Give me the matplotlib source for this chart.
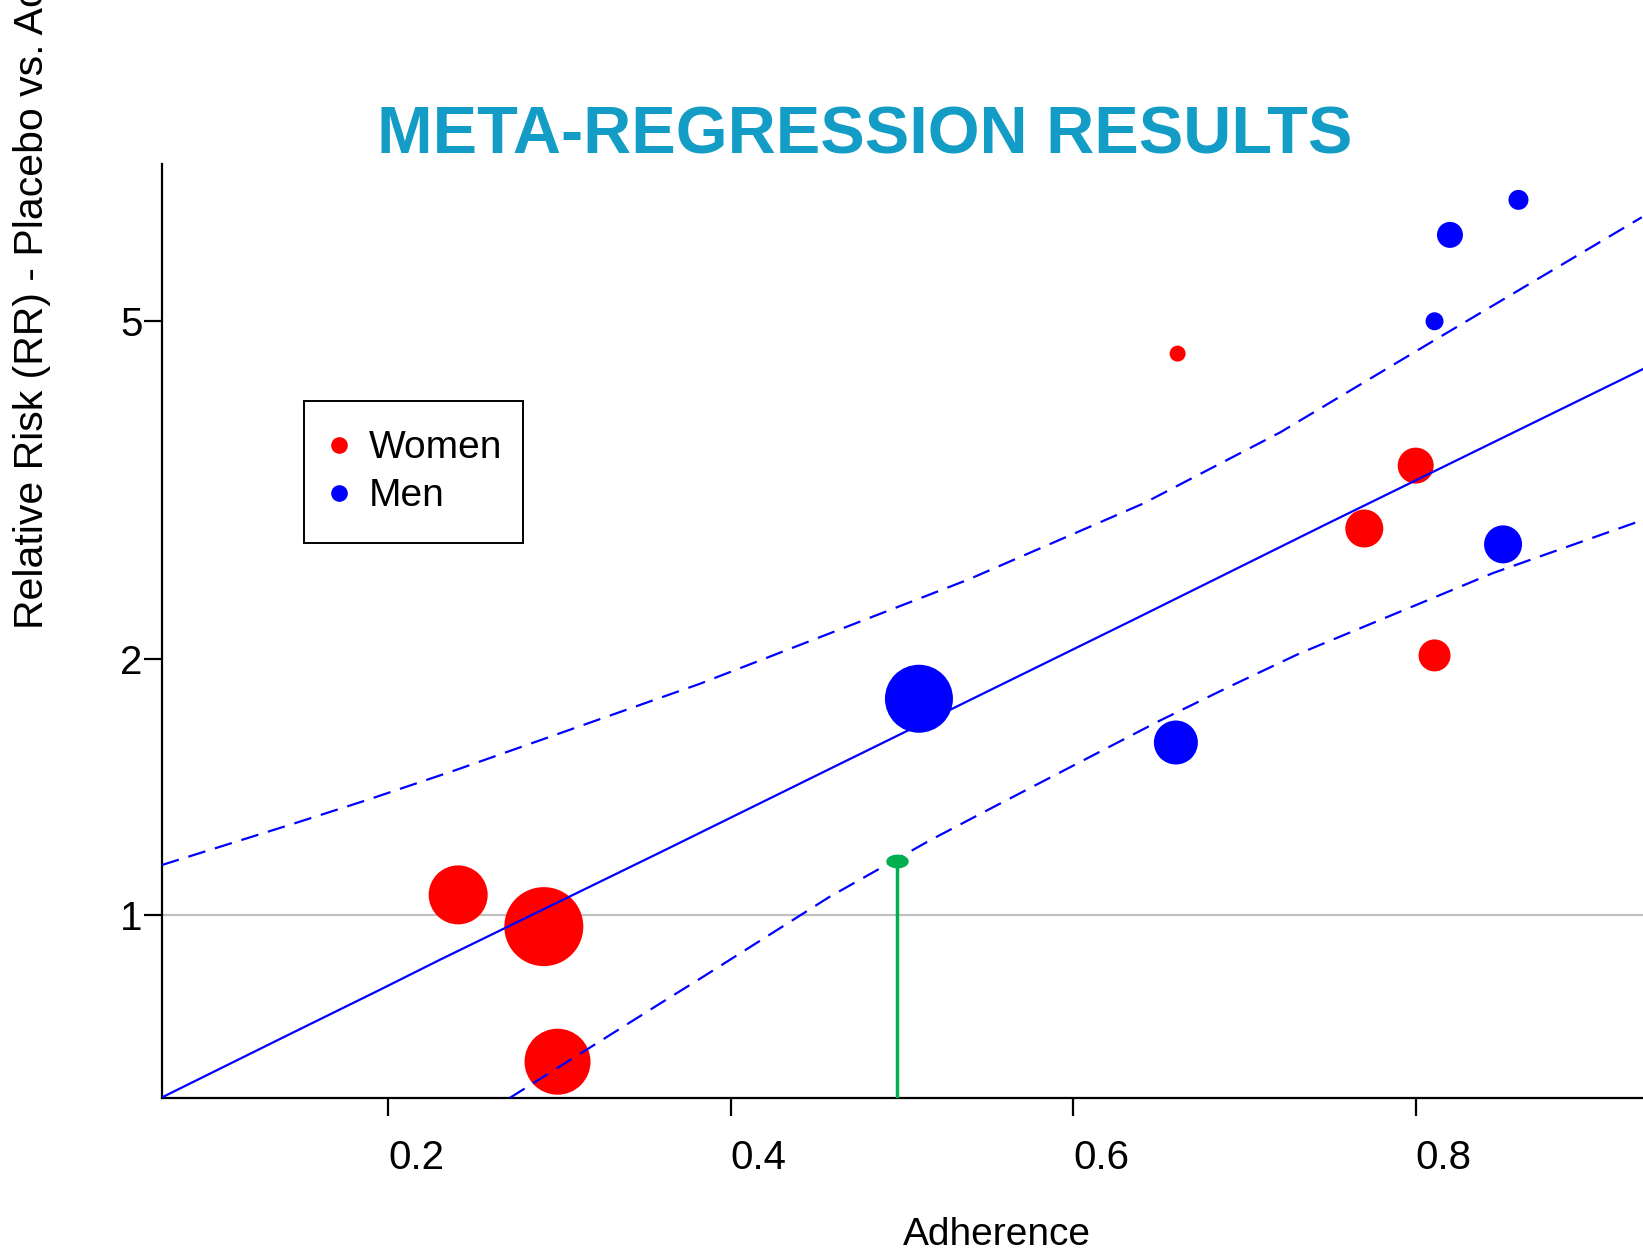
import numpy as np
import matplotlib.pyplot as plt
from matplotlib.lines import Line2D
from matplotlib.ticker import NullLocator

plt.rcParams['font.family'] = ['Liberation Sans', 'DejaVu Sans']

# study points: adherence, relative risk, marker diameter (px)
women_adh = [0.241, 0.291, 0.299, 0.661, 0.800, 0.770, 0.811]
women_rr = [1.055, 0.968, 0.671, 4.58, 3.38, 2.85, 2.02]
women_size = [59, 79, 66, 16, 36, 38, 32]

men_adh = [0.510, 0.660, 0.851, 0.820, 0.860, 0.811]
men_rr = [1.796, 1.595, 2.73, 6.32, 6.95, 5.0]
men_size = [68, 44, 38, 26, 20, 18]

# meta-regression line and confidence band
fit_adh = [0.068, 0.139, 0.195, 0.230, 0.359, 0.458, 0.635, 0.748, 0.933]
fit_rr = [0.609, 0.717, 0.815, 0.884, 1.184, 1.485, 2.224, 2.885, 4.395]

upper_adh = [0.068, 0.145, 0.188, 0.240, 0.382, 0.5385, 0.641, 0.721, 0.811, 0.932]
upper_rr = [1.144, 1.28, 1.365, 1.481, 1.87, 2.48, 3.05, 3.70, 4.75, 6.63]

lower_adh = [0.271, 0.359, 0.382, 0.458, 0.517, 0.552, 0.650, 0.6915, 0.732, 0.845, 0.930]
lower_rr = [0.608, 0.786, 0.840, 1.05, 1.225, 1.334, 1.69, 1.857, 2.03, 2.525, 2.904]

# adherence where the lower bound crosses
cut_adh = 0.497
cut_rr = 1.158

yticks = [1, 2, 5]
xticks = [0.2, 0.4, 0.6, 0.8]

fig = plt.figure(figsize=(16.43, 12.53), dpi=100)
ax = fig.add_axes([162 / 1643, 1 - 1097.7 / 1253, (1643 - 162) / 1643, (1097.7 - 164) / 1253])


def px2pt(d):
    return (d * 0.72) ** 2


ax.scatter(women_adh, women_rr, s=[px2pt(d) for d in women_size], c='#ff0000',
           linewidths=0, zorder=2)
ax.scatter(men_adh, men_rr, s=[px2pt(d) for d in men_size], c='#0000ff',
           linewidths=0, zorder=2)

ax.axhline(1, color='#c0c0c0', lw=1.6, zorder=1)
ax.plot(fit_adh, fit_rr, color='#0000ff', lw=1.6, zorder=3)
ax.plot(upper_adh, upper_rr, color='#0000ff', lw=1.6, ls=(0, (8, 4.5)), zorder=3)
ax.plot(lower_adh, lower_rr, color='#0000ff', lw=1.6, ls=(0, (8, 4.5)), zorder=3)

ax.set_yscale('log')
ax.set_xlim(0.0681, 0.9327)
ax.set_ylim(0.6086, 7.66)

ax.plot([cut_adh, cut_adh], [0.6086, cut_rr], color='#00b050', lw=2.5, zorder=4)
t = np.linspace(0, 2 * np.pi, 60)
ell = list(zip(np.cos(t), 0.62 * np.sin(t)))
ax.scatter([cut_adh], [cut_rr], marker=ell, s=260, c='#00b050', linewidths=0, zorder=5)

ax.set_yticks(yticks)
ax.set_yticklabels([str(v) for v in yticks])
ax.yaxis.set_minor_locator(NullLocator())
ax.set_xticks(xticks)
ax.set_xticklabels([str(v) for v in xticks])
for lbl in ax.get_xticklabels():
    lbl.set_horizontalalignment('left')

for side in ['top', 'right']:
    ax.spines[side].set_visible(False)
for side in ['left', 'bottom']:
    ax.spines[side].set_linewidth(1.6)
ax.tick_params(axis='both', direction='out', length=13, width=1.6, labelsize=29)
ax.tick_params(axis='x', pad=16.5)
ax.tick_params(axis='y', pad=1)

ax.set_xlabel('Adherence', fontsize=28)
ax.xaxis.label.set_verticalalignment('baseline')
ax.xaxis.set_label_coords((996.5 - 162) / 1481, -(1245 - 1097.7) / 933.7)

fig.text(32 / 1643, 1 - 629 / 1253, 'Relative Risk (RR) - Placebo vs. Active',
         rotation=90, ha='center', va='bottom', fontsize=29.5)

fig.text(864.5 / 1643, 1 - 154 / 1253, 'META-REGRESSION RESULTS', ha='center',
         va='baseline', fontsize=48, fontweight='bold', color='#139cc5')

handles = [
    Line2D([], [], ls='none', marker='o', markersize=12, color='#ff0000', mec='none'),
    Line2D([], [], ls='none', marker='o', markersize=12, color='#0000ff', mec='none'),
]
box_x0 = (303.9 - 162) / 1481
box_top = (1097.7 - 401.3) / 933.7
box_w = 219 / 1481
box_h = 139.4 / 933.7
leg = ax.legend(handles, ['Women', 'Men'], loc='upper left', mode='expand',
                bbox_to_anchor=(box_x0, box_top - box_h, box_w, box_h),
                fontsize=28, frameon=True, fancybox=False, framealpha=1,
                edgecolor='black', borderpad=0.75, labelspacing=0.3,
                handlelength=0.3, handletextpad=0.62, borderaxespad=0)
leg.get_frame().set_linewidth(1.4)

fig.savefig('out.png', dpi=100)
